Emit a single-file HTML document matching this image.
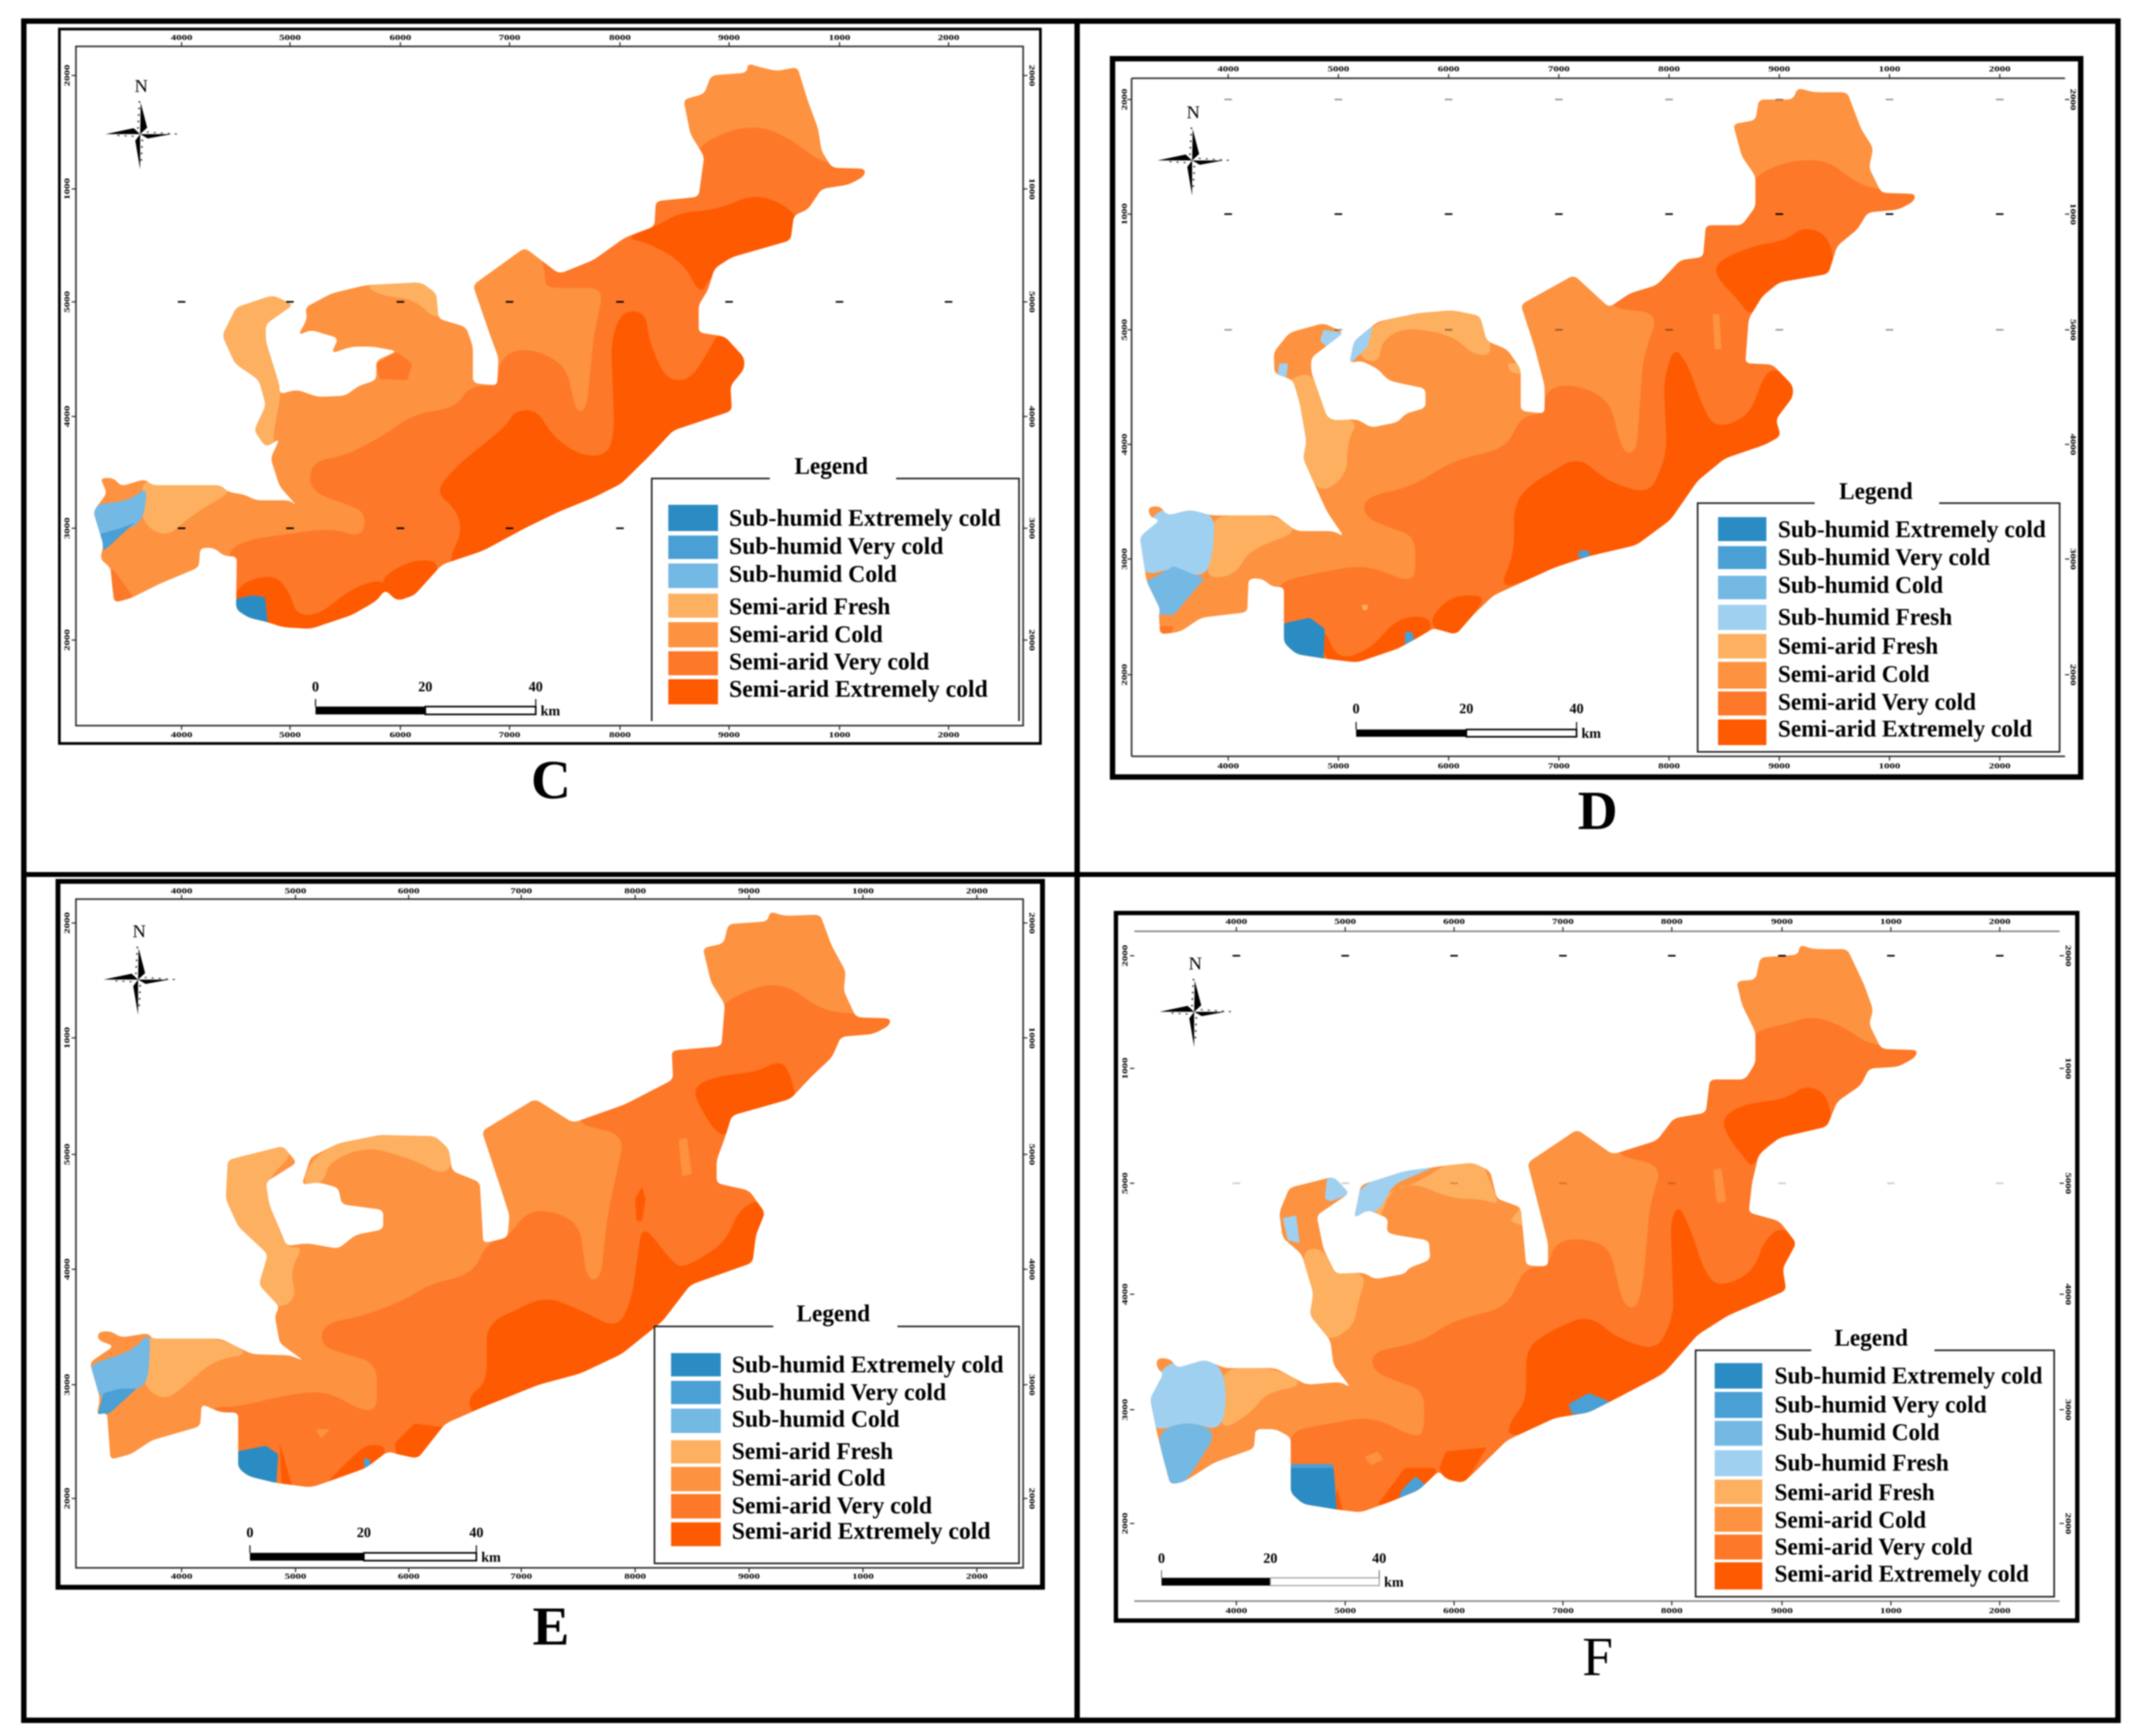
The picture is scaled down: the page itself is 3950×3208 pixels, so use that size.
<!DOCTYPE html>
<html>
<head>
<meta charset="utf-8">
<title>Climate classification maps C to F</title>
<style>
html,body{margin:0;padding:0;background:#fff;width:3950px;height:3208px;overflow:hidden}
svg{display:block;filter:blur(1.3px)}
text{font-family:"Liberation Serif",serif;fill:#000}
</style>
</head>
<body>
<svg id="figure" xmlns="http://www.w3.org/2000/svg" width="3950" height="3208" viewBox="0 0 3950 3208">
<rect x="0" y="0" width="3950" height="3208" fill="#fff"/>
<rect x="44" y="39" width="3869" height="3140" fill="none" stroke="#000" stroke-width="10"/>
<line x1="1990" y1="39" x2="1990" y2="3179" stroke="#000" stroke-width="10"/>
<line x1="44" y1="1616" x2="3913" y2="1616" stroke="#000" stroke-width="9"/>
</svg>
<script>
const colors = {
  subExtreme: '#2b8cc4', subVery: '#4a9fd4', subCold: '#74b8e4', subFresh: '#9fd0f0',
  fresh: '#fdb060', cold: '#fd9240', very: '#fd7828', extreme: '#fe5a02'
};
const legendLabels5 = ['Sub-humid Extremely cold','Sub-humid Very cold','Sub-humid Cold','Semi-arid Fresh','Semi-arid Cold','Semi-arid Very cold','Semi-arid Extremely cold'];
const legendColors5 = ['subExtreme','subVery','subCold','fresh','cold','very','extreme'];
const legendWidths5 = [502,396,310,298,284,370,478];
const legendLabels8 = ['Sub-humid Extremely cold','Sub-humid Very cold','Sub-humid Cold','Sub-humid Fresh','Semi-arid Fresh','Semi-arid Cold','Semi-arid Very cold','Semi-arid Extremely cold'];
const legendColors8 = ['subExtreme','subVery','subCold','subFresh','fresh','cold','very','extreme'];
const legendWidths8 = [495,392,305,322,296,280,366,470];
const scaleLabels = ['0','20','40'];
const xTickLabels = ['4000','5000','6000','7000','8000','9000','1000','2000'];
const yTickLabels = ['2000','1000','5000','4000','3000','2000'];

const outlineC = '1083,113 1100,120 1125,127 1155,120 1170,180 1185,230 1190,270 1205,300 1253,302 1252,315 1230,330 1190,338 1170,375 1150,385 1145,430 1060,460 1035,480 1025,520 1012,545 1012,595 1050,602 1078,640 1078,660 1058,690 1060,735 975,770 945,810 900,865 860,890 810,915 760,945 700,985 640,1010 600,1065 575,1075 558,1055 545,1075 510,1100 450,1125 410,1122 385,1112 360,1105 342,1090 343,995 325,995 310,980 290,980 288,1015 230,1045 190,1070 165,1078 160,1015 145,1000 150,975 135,915 155,882 145,855 165,855 175,870 210,857 220,868 320,868 330,880 355,885 370,895 420,895 430,905 405,870 392,820 405,785 385,800 368,770 385,725 375,680 340,650 322,600 342,550 395,528 425,545 385,580 385,610 405,690 405,705 430,697 460,710 500,708 520,690 545,680 545,645 575,628 540,620 510,620 480,632 490,605 450,590 432,600 445,570 442,550 480,525 530,510 610,505 632,525 635,570 675,585 685,620 685,685 720,690 722,640 710,600 685,510 760,443 810,490 860,465 905,425 948,405 950,360 1012,352 1020,280 1000,240 990,178 1020,168 1030,135 1082,130';
const layersC = [
  ['fresh','300,500 440,520 390,600 408,700 395,780 400,810 360,800 300,650'],
  ['fresh','525,510 625,495 650,540 633,575 600,535 555,530'],
  ['fresh','210,857 320,868 335,880 300,905 270,930 240,962 205,935 205,880'],
  ['very','330,985 360,965 420,955 480,945 525,962 530,920 510,905 460,885 447,860 455,825 500,815 555,780 600,740 660,730 680,690 722,690 722,650 745,625 780,628 820,655 835,740 850,730 860,600 875,515 830,515 790,515 790,490 780,440 860,420 900,380 930,320 1005,320 1005,268 1050,235 1100,225 1140,245 1195,295 1320,290 1320,800 900,1200 320,1200'],
  ['very','165,1020 193,1068 170,1085 155,1020'],
  ['very','545,650 575,630 597,650 590,680 550,678'],
  ['extreme','905,425 950,405 985,380 1040,375 1095,345 1150,375 1170,430 1030,490 1015,530 990,470 940,435'],
  ['extreme','630,880 660,835 735,760 745,735 778,733 800,780 840,815 880,815 890,770 885,610 900,557 935,557 940,610 965,680 1000,680 1030,620 1040,595 1090,595 1090,760 980,900 800,1000 660,1030 650,1000 670,950 660,910'],
  ['extreme','343,1045 397,1026 420,1060 429,1100 462,1100 510,1052 555,1035 560,1060 540,1140 400,1140 330,1130'],
  ['extreme','555,1030 600,1000 640,1005 610,1090 560,1090 555,1055'],
  ['subCold','214,868 207,935 175,950 150,985 125,905 190,895'],
  ['subVery','145,955 175,945 195,935 160,975 150,985'],
  ['subExtreme','340,1072 365,1065 384,1068 388,1120 330,1120']
];

const outlineD = '1067,157 1090,165 1140,165 1160,230 1178,265 1172,300 1190,345 1240,347 1238,360 1215,375 1170,380 1155,410 1125,440 1112,490 1040,505 1015,530 995,570 990,650 1030,652 1060,690 1060,710 1035,750 1042,780 1020,795 960,820 920,860 880,930 830,975 760,995 710,1015 620,1065 590,1100 565,1135 535,1125 530,1125 510,1140 480,1160 420,1185 370,1178 330,1170 312,1150 312,1050 295,1050 280,1035 260,1035 258,1095 190,1105 160,1130 130,1135 128,1100 130,1090 110,1040 100,960 130,930 115,925 112,907 130,905 140,922 175,912 205,922 300,922 330,950 385,950 400,960 375,915 362,880 340,820 345,790 335,720 325,680 298,668 297,630 320,595 370,578 400,595 352,640 352,665 375,745 385,752 420,750 440,765 480,755 490,740 520,730 520,695 480,685 465,680 450,660 425,645 408,650 415,610 450,575 510,560 560,555 600,565 610,610 640,625 660,660 660,735 695,740 695,690 680,620 660,545 738,492 790,550 820,525 860,510 895,465 928,460 932,403 985,403 1005,370 1005,315 985,280 972,222 1005,215 1010,178 1060,178';
const layersD = [
  ['fresh','290,700 352,660 375,745 422,752 405,790 405,850 365,885 340,830'],
  ['fresh','430,590 500,550 600,545 620,635 590,635 560,600 490,585 455,610 452,650 420,640'],
  ['fresh','205,922 300,922 335,950 260,985 240,1030 195,1035 208,980'],
  ['fresh','640,650 660,650 660,670 645,665'],
  ['subFresh','100,960 130,905 210,915 208,990 195,1035 150,1015 110,1030 90,1000'],
  ['subFresh','370,590 398,595 380,625 365,610'],
  ['subFresh','412,600 443,580 435,620 410,650 400,640'],
  ['subFresh','305,650 318,650 315,680 302,675'],
  ['subCold','110,1040 150,1013 195,1035 150,1100 130,1100'],
  ['very','300,1045 340,1030 430,1010 505,1045 505,960 470,945 430,925 430,890 500,870 560,825 640,800 660,745 695,740 697,695 740,687 790,715 810,810 830,810 840,640 863,560 785,550 800,490 860,470 890,430 915,380 1000,370 997,320 1050,288 1110,285 1150,325 1185,340 1300,335 1300,800 900,1200 300,1200'],
  ['very','130,1120 150,1120 145,1140 125,1140'],
  ['cold','942,562 952,562 955,625 945,625'],
  ['fresh','426,1082 436,1082 434,1092 428,1092'],
  ['extreme','945,470 1000,440 1050,430 1075,405 1112,420 1125,500 1030,510 1000,570 975,530 950,500'],
  ['extreme','650,905 670,870 745,815 785,860 850,885 875,810 870,680 885,620 905,650 925,720 945,768 995,745 1020,665 1040,660 1080,700 1060,800 900,910 840,985 700,1025 628,1055 650,990'],
  ['extreme','530,1100 560,1065 610,1065 590,1100 565,1140 530,1125'],
  ['extreme','435,1165 480,1105 525,1102 530,1130 480,1170 420,1195 370,1185 370,1120 390,1180'],
  ['subExtreme','312,1115 350,1105 372,1125 370,1185 305,1180'],
  ['subVery','490,1130 500,1130 505,1150 490,1158'],
  ['subVery','745,985 760,985 762,998 745,998']
];

const outlineE = '1115,82 1135,90 1188,88 1205,145 1225,190 1222,225 1240,273 1290,275 1288,288 1265,303 1218,308 1205,345 1175,380 1145,420 1060,450 1050,490 1038,530 1038,572 1085,585 1108,625 1095,665 1090,715 1000,755 960,820 900,880 840,915 780,935 700,975 645,1005 605,1068 575,1060 562,1055 530,1085 470,1112 450,1120 400,1112 360,1100 345,1085 345,985 320,985 292,970 290,1010 220,1035 190,1060 160,1070 155,985 140,990 145,960 130,895 165,865 142,855 142,840 160,838 175,850 215,842 220,852 320,852 365,880 420,882 440,892 405,860 398,810 405,795 375,755 388,700 345,650 327,600 330,530 410,505 430,535 385,570 390,610 415,685 445,680 490,690 515,665 555,655 555,620 525,615 495,610 490,580 460,570 437,575 450,525 490,500 550,485 630,487 650,510 655,550 695,570 700,680 735,670 738,630 725,580 698,478 775,420 830,463 905,430 975,385 973,333 1045,325 1050,250 1030,210 1018,148 1048,140 1055,105 1112,100';
const layersE = [
  ['fresh','320,500 430,510 385,570 390,610 415,690 440,685 420,730 430,780 400,800 360,760 320,620'],
  ['fresh','450,530 500,490 630,480 660,520 645,560 600,530 530,505 475,535 470,570 437,580'],
  ['fresh','215,842 320,852 365,880 310,890 270,935 238,965 205,935 215,880'],
  ['very','345,975 410,955 470,945 530,985 547,975 545,895 500,880 465,865 468,825 530,810 590,780 620,755 685,735 705,680 735,670 765,620 810,625 840,650 850,745 870,745 880,630 905,485 830,463 860,400 940,360 955,300 1040,300 1042,250 1100,215 1140,215 1190,260 1240,268 1340,250 1340,500 1200,1000 600,1200 300,1200 300,975'],
  ['cold','983,493 995,490 1002,555 988,560'],
  ['cold','457,1015 478,1015 465,1032'],
  ['extreme','1000,400 1040,378 1095,372 1130,350 1145,375 1155,430 1060,460 1050,490 1030,470'],
  ['extreme','680,980 680,955 705,930 705,825 790,775 840,800 895,835 915,780 930,645 975,715 990,725 1050,680 1070,620 1100,600 1115,620 1100,720 1000,770 900,895 780,955 700,995'],
  ['extreme','920,600 930,578 935,600 930,640 922,640'],
  ['extreme','572,1040 600,1005 645,1012 605,1075 575,1070'],
  ['extreme','470,1115 510,1065 535,1040 565,1050 530,1090 480,1120'],
  ['extreme','405,1040 408,1115 425,1125 412,1070'],
  ['subExtreme','345,1055 385,1045 403,1060 400,1115 340,1100'],
  ['subVery','527,1068 535,1068 537,1085 528,1088'],
  ['subCold','218,838 215,925 200,945 170,942 150,970 125,900 165,885 195,870'],
  ['subVery','150,950 175,942 198,942 160,985 140,995']
];

const outlineF = '1070,142 1090,150 1140,150 1165,215 1178,260 1172,285 1190,330 1243,332 1240,345 1215,362 1172,365 1160,395 1125,425 1110,470 1040,490 1010,520 1000,570 995,625 1040,640 1065,680 1045,725 1050,765 965,810 920,845 870,915 800,960 760,985 710,995 640,1035 590,1095 575,1112 550,1105 540,1090 510,1125 470,1145 425,1165 390,1160 340,1150 322,1130 322,1030 300,1015 270,1015 268,1050 210,1075 165,1110 145,1115 135,1070 125,1020 115,960 135,915 125,905 125,887 145,888 155,905 195,890 225,905 300,905 345,935 395,930 410,940 385,900 380,855 350,810 355,770 338,700 310,670 305,625 320,580 385,560 408,590 360,630 370,690 388,735 430,733 445,745 490,735 495,725 527,710 525,675 500,670 475,665 463,660 465,635 435,620 415,635 425,575 490,550 550,540 590,535 615,550 625,600 660,615 668,720 700,722 700,680 670,535 743,475 795,520 860,495 885,455 932,445 938,385 990,385 1005,355 1005,300 985,250 977,208 1005,205 1012,165 1068,160';
const layersF = [
  ['fresh','340,690 370,690 388,735 435,733 420,790 415,830 375,860 340,800'],
  ['fresh','460,590 510,570 560,530 600,525 625,600 625,610 600,600 560,600 500,570 465,590 455,635 440,625'],
  ['fresh','220,905 300,905 345,935 285,950 265,985 218,1020 225,965'],
  ['fresh','645,640 660,615 665,650'],
  ['subFresh','115,960 135,895 195,888 222,905 228,965 218,1020 170,1000 125,1020 100,990'],
  ['subFresh','375,565 385,555 412,590 380,605 372,600'],
  ['subFresh','425,575 490,545 555,530 510,555 470,575 455,620 415,640 410,620'],
  ['subFresh','310,635 330,630 335,680 318,675'],
  ['subCold','125,1020 170,1000 215,1020 165,1115 145,1120 135,1070'],
  ['very','322,1020 355,1010 440,992 505,1030 518,1020 518,945 480,930 442,910 442,875 510,860 560,820 640,795 665,725 700,722 710,680 745,670 790,685 810,790 830,800 840,750 850,610 868,540 795,520 810,470 860,460 880,420 920,370 995,360 997,300 1050,285 1090,270 1135,290 1175,325 1300,320 1300,800 1100,1000 600,1200 300,1200'],
  ['cold','943,548 955,545 962,605 948,608'],
  ['cold','430,1065 450,1055 458,1070 440,1080'],
  ['extreme','955,455 985,430 1050,420 1078,395 1110,410 1120,480 1030,495 1010,520 1000,545 985,520 965,490'],
  ['extreme','640,1030 645,1000 668,965 668,870 700,840 760,808 800,850 860,875 885,810 880,640 892,610 908,650 930,730 950,760 1000,735 1020,670 1045,650 1075,680 1060,780 920,865 790,985 700,1015'],
  ['extreme','540,1085 550,1055 610,1048 575,1120 550,1110'],
  ['extreme','450,1150 490,1085 535,1085 535,1115 470,1160'],
  ['extreme','390,1120 400,1170 385,1170'],
  ['subExtreme','322,1085 385,1085 390,1165 340,1160 315,1130'],
  ['subVery','320,1078 385,1078 385,1085 320,1085'],
  ['subVery','485,1125 505,1100 525,1120 510,1135 478,1150'],
  ['subVery','730,970 760,950 790,965 770,988 735,988']
];

const panels = [
  {id:'c', letter:'C', bold:true, ox:0, oy:0, sx:1.2755, sy:1.033, outline:outlineC, layers:layersC,
   frame:[86,52,1507,1330], frameW:5, inner:[110,83,1482,1298], innerMode:'box',
   xTicks:[263,420,580,738,898,1056,1216,1374], topY:67, botY:1314,
   yTicks:[135,338,540,745,945,1145], leftX:97, rightX:1495,
   grid:[[2,1,8],[4,1,5]], compass:[203,240], letterPos:[798,1395],
   bar:[457,616,776,1264,1278,1228], barFull:true,
   legendBox:[944,856,1476,1290], legendGap:[1115,1298], legendOpenBottom:true, legendTitleY:835, legendTitleX:1204,
   swatchX:[968,1040], swatchY:[[903,950],[958,1000],[1008,1052],[1062,1105],[1113,1158],[1165,1208],[1215,1260]],
   labelX:1056, labelY:[928,978,1028,1086,1136,1185,1234]},
  {id:'d', letter:'D', bold:true, ox:1980, oy:0, sx:1.257, sy:1.033, outline:outlineD, layers:layersD,
   frame:[60,105,1483,1390], frameW:10, inner:[88,140,1460,1353], innerMode:'open-right',
   xTicks:[230,392,554,716,878,1040,1202,1364], topY:123, botY:1370,
   yTicks:[178,383,590,795,1000,1207], leftX:77, rightX:1472,
   grid:[[0,0.4,8],[1,1,8],[2,0.4,8]], compass:[177,287], letterPos:[773,1450],
   bar:[418,580,742,1305,1318,1267], barFull:true,
   legendBox:[920,900,1452,1345], legendGap:[1092,1275], legendOpenBottom:false, legendTitleY:880, legendTitleX:1182,
   swatchX:[950,1021], swatchY:[[925,968],[977,1018],[1030,1072],[1082,1127],[1134,1178],[1184,1232],[1237,1280],[1287,1333]],
   labelX:1038, labelY:[948,998,1048,1105,1157,1207,1257,1305]},
  {id:'e', letter:'E', bold:true, ox:0, oy:1600, sx:1.2755, sy:1.0255, outline:outlineE, layers:layersE,
   frame:[84,28,1510,1300], frameW:9, inner:[110,60,1482,1265], innerMode:'box',
   xTicks:[263,428,592,755,920,1085,1250,1415], topY:45, botY:1280,
   yTicks:[103,310,520,727,935,1140], leftX:97, rightX:1495,
   grid:[], compass:[200,205], letterPos:[798,1370],
   bar:[362,527,690,1238,1252,1201], barFull:true,
   legendBox:[948,830,1476,1257], legendGap:[1120,1300], legendOpenBottom:false, legendTitleY:808, legendTitleX:1207,
   swatchX:[972,1044], swatchY:[[878,920],[928,970],[978,1022],[1035,1077],[1083,1127],[1132,1176],[1183,1226]],
   labelX:1060, labelY:[900,950,998,1056,1104,1154,1200]},
  {id:'f', letter:'F', bold:false, ox:1980, oy:1600, sx:1.257, sy:1.0255, outline:outlineF, layers:layersF,
   frame:[65,85,1478,1360], frameW:8, inner:[92,118,1452,1325], innerMode:'lines',
   xTicks:[242,402,562,722,882,1044,1204,1364], topY:100, botY:1342,
   yTicks:[162,365,572,772,980,1185], leftX:78, rightX:1465,
   grid:[[0,1,8],[2,0.2,8]], compass:[180,263], letterPos:[773,1425],
   bar:[132,292,452,1283,1297,1247], barFull:false,
   legendBox:[917,873,1444,1317], legendGap:[1087,1268], legendOpenBottom:false, legendTitleY:852, legendTitleX:1175,
   swatchX:[945,1015], swatchY:[[896,942],[948,995],[1000,1045],[1053,1100],[1106,1150],[1155,1200],[1205,1250],[1255,1304]],
   labelX:1033, labelY:[920,972,1022,1077,1130,1180,1228,1277]}
];

const NS = 'http://www.w3.org/2000/svg';
const root = document.getElementById('figure');
function mk(tag, parent, props) {
  const el = document.createElementNS(NS, tag);
  for (const k in props) el.setAttribute(k, props[k]);
  parent.appendChild(el);
  return el;
}
function txt(parent, s, x, y, props) {
  const el = mk('text', parent, Object.assign({x: x, y: y}, props));
  el.textContent = s;
  return el;
}
function smoothPath(str, maxR) {
  const pts = str.trim().split(/\s+/).map(function (s) { return s.split(',').map(Number); });
  const n = pts.length;
  let d = '';
  for (let i = 0; i < n; i++) {
    const c = pts[i], a = pts[(i + n - 1) % n], b = pts[(i + 1) % n];
    const la = Math.hypot(a[0] - c[0], a[1] - c[1]), lb = Math.hypot(b[0] - c[0], b[1] - c[1]);
    const ta = Math.min(maxR / la, 0.5), tb = Math.min(maxR / lb, 0.5);
    const p = [c[0] + (a[0] - c[0]) * ta, c[1] + (a[1] - c[1]) * ta];
    const q = [c[0] + (b[0] - c[0]) * tb, c[1] + (b[1] - c[1]) * tb];
    d += (i === 0 ? 'M' : 'L') + p[0].toFixed(1) + ' ' + p[1].toFixed(1) + 'Q' + c[0] + ' ' + c[1] + ' ' + q[0].toFixed(1) + ' ' + q[1].toFixed(1);
  }
  return d + 'Z';
}
panels.forEach(function (p) {
  const fx = function (v) { return p.ox + p.sx * v; };
  const fy = function (v) { return p.oy + p.sy * v; };
  const g = mk('g', root, {});
  
  

  const fr = mk('rect', g, {x: fx(p.frame[0]), y: fy(p.frame[1]), width: fx(p.frame[2]) - fx(p.frame[0]), height: fy(p.frame[3]) - fy(p.frame[1]), fill: 'none', stroke: '#000', 'stroke-width': p.frameW});
  
  

  const ix0 = fx(p.inner[0]), iy0 = fy(p.inner[1]), ix1 = fx(p.inner[2]), iy1 = fy(p.inner[3]);
  let d = 'M' + ix0 + ' ' + iy0 + 'H' + ix1 + 'M' + ix0 + ' ' + iy1 + 'H' + ix1;
  if (p.innerMode === 'box') d = 'M' + ix0 + ' ' + iy0 + 'H' + ix1 + 'V' + iy1 + 'H' + ix0 + 'Z';
  if (p.innerMode === 'open-right') d += 'M' + ix0 + ' ' + iy0 + 'V' + iy1;
  const inner = mk('path', g, {d: d, fill: 'none', stroke: p.innerMode === 'lines' ? '#888' : '#333', 'stroke-width': 3});
  
  

  const ticks = mk('g', g, {});
  
  
  p.xTicks.forEach(function (tx, i) {
    const x = fx(tx);
    mk('line', ticks, {x1: x, x2: x, y1: iy0 - 8, y2: iy0, stroke: '#222', 'stroke-width': 2});
    mk('line', ticks, {x1: x, x2: x, y1: iy1, y2: iy1 + 8, stroke: '#222', 'stroke-width': 2});
    txt(ticks, xTickLabels[i], x, fy(p.topY) + 5, {'font-size': 15, 'font-weight': 'bold', 'text-anchor': 'middle', textLength: 40, lengthAdjust: 'spacingAndGlyphs'});
    txt(ticks, xTickLabels[i], x, fy(p.botY) + 5, {'font-size': 15, 'font-weight': 'bold', 'text-anchor': 'middle', textLength: 40, lengthAdjust: 'spacingAndGlyphs'});
  });
  p.yTicks.forEach(function (ty, i) {
    const y = fy(ty);
    const lx = fx(p.leftX), rx = fx(p.rightX);
    mk('line', ticks, {x1: ix0 - 8, x2: ix0, y1: y, y2: y, stroke: '#222', 'stroke-width': 2});
    mk('line', ticks, {x1: ix1, x2: ix1 + 8, y1: y, y2: y, stroke: '#222', 'stroke-width': 2});
    txt(ticks, yTickLabels[i], lx + 5, y, {'font-size': 15, 'font-weight': 'bold', 'text-anchor': 'middle', transform: 'rotate(-90 ' + (lx + 5) + ' ' + y + ')', textLength: 40, lengthAdjust: 'spacingAndGlyphs'});
    txt(ticks, yTickLabels[i], rx - 5, y, {'font-size': 15, 'font-weight': 'bold', 'text-anchor': 'middle', transform: 'rotate(90 ' + (rx - 5) + ' ' + y + ')', textLength: 40, lengthAdjust: 'spacingAndGlyphs'});
  });

  const map = mk('g', g, {transform: 'matrix(' + p.sx + ' 0 0 ' + p.sy + ' ' + p.ox + ' ' + p.oy + ')'});
  
  
  const clip = mk('clipPath', map, {id: 'clip-' + p.id});
  const outlinePath = smoothPath(p.outline, 9);
  mk('path', clip, {d: outlinePath});
  mk('path', map, {d: outlinePath, fill: colors.cold});
  const clipped = mk('g', map, {'clip-path': 'url(#clip-' + p.id + ')'});
  p.layers.forEach(function (l) {
    const count = l[1].trim().split(/\s+/).length;
    const poly = mk('path', clipped, {d: smoothPath(l[1], count >= 6 ? 30 : 3), fill: colors[l[0]]});
    
    
  });

  const gridMarks = mk('g', g, {});
  
  
  p.grid.forEach(function (row) {
    for (let c = 0; c < row[2]; c++) {
      mk('rect', gridMarks, {x: fx(p.xTicks[c]) - 7, y: fy(p.yTicks[row[0]]) - 1.5, width: 14, height: 3, fill: '#000', opacity: row[1]});
    }
  });

  const cx = fx(p.compass[0]), cy = fy(p.compass[1]);
  const comp = mk('g', g, {transform: 'translate(' + cx + ' ' + cy + ')'});
  
  
  mk('polygon', comp, {points: '0,0 1,-58 13,-12'});
  mk('polygon', comp, {points: '0,0 0,65 -9,12'});
  mk('polygon', comp, {points: '0,0 -64,0 -12,-11'});
  mk('polygon', comp, {points: '0,0 58,0 14,8'});
  mk('line', comp, {x1: -4, y1: -10, x2: -1, y2: -65, stroke: '#333', 'stroke-width': 3, 'stroke-dasharray': '3 9'});
  mk('line', comp, {x1: 4, y1: 10, x2: 2, y2: 50, stroke: '#333', 'stroke-width': 3, 'stroke-dasharray': '3 9'});
  mk('line', comp, {x1: 12, y1: -4, x2: 70, y2: 0, stroke: '#333', 'stroke-width': 2, 'stroke-dasharray': '4 9'});
  mk('line', comp, {x1: -12, y1: 4, x2: -48, y2: 2, stroke: '#333', 'stroke-width': 2, 'stroke-dasharray': '4 9'});
  txt(comp, 'N', 2, -78, {'font-size': 34, 'text-anchor': 'middle'});

  const sb = mk('g', g, {});
  
  
  const bx0 = fx(p.bar[0]), bx1 = fx(p.bar[1]), bx2 = fx(p.bar[2]), by0 = fy(p.bar[3]), by1 = fy(p.bar[4]);
  mk('rect', sb, {x: bx0, y: by0, width: bx1 - bx0, height: by1 - by0, fill: '#000'});
  mk('rect', sb, {x: bx1, y: by0, width: bx2 - bx1, height: by1 - by0, fill: '#fff', stroke: p.barFull ? '#000' : '#999', 'stroke-width': p.barFull ? 3 : 2});
  [bx0, bx1, bx2].forEach(function (x, i) {
    mk('line', sb, {x1: x, x2: x, y1: by0 - 14, y2: by0, stroke: i === 1 ? 'none' : (p.barFull ? '#000' : '#777'), 'stroke-width': 2});
    txt(sb, scaleLabels[i], x, fy(p.bar[5]) + 9, {'font-size': 26, 'font-weight': 'bold', 'text-anchor': 'middle'});
  });
  txt(sb, 'km', bx2 + 9, by1 + 2, {'font-size': 26, 'font-weight': 'bold'});

  const leg = mk('g', g, {});
  
  
  const lb = p.legendBox;
  const lx0 = fx(lb[0]), ly0 = fy(lb[1]), lx1 = fx(lb[2]), ly1 = fy(lb[3]);
  const g0 = fx(p.legendGap[0]), g1 = fx(p.legendGap[1]);
  const legendPath = p.legendOpenBottom
    ? 'M' + g0 + ' ' + ly0 + 'H' + lx0 + 'V' + ly1 + 'M' + g1 + ' ' + ly0 + 'H' + lx1 + 'V' + ly1
    : 'M' + g0 + ' ' + ly0 + 'H' + lx0 + 'V' + ly1 + 'H' + lx1 + 'V' + ly0 + 'H' + g1;
  mk('path', leg, {d: legendPath, fill: 'none', stroke: '#222', 'stroke-width': 3});
  txt(leg, 'Legend', fx(p.legendTitleX), fy(p.legendTitleY) + 13, {'font-size': 44, 'font-weight': 'bold', 'text-anchor': 'middle', textLength: 136, lengthAdjust: 'spacingAndGlyphs'});
  const eight = p.swatchY.length === 8;
  const labels = eight ? legendLabels8 : legendLabels5;
  const cols = eight ? legendColors8 : legendColors5;
  const widths = eight ? legendWidths8 : legendWidths5;
  labels.forEach(function (s, i) {
    const entry = mk('g', leg, {});
    
    
    mk('rect', entry, {x: fx(p.swatchX[0]), y: fy(p.swatchY[i][0]), width: fx(p.swatchX[1]) - fx(p.swatchX[0]), height: fy(p.swatchY[i][1]) - fy(p.swatchY[i][0]), fill: colors[cols[i]]});
    txt(entry, s, fx(p.labelX), fy(p.labelY[i]) + 13, {'font-size': 44, 'font-weight': 'bold', textLength: widths[i], lengthAdjust: 'spacingAndGlyphs'});
  });

  const letter = txt(g, p.letter, fx(p.letterPos[0]), fy(p.letterPos[1]) + 34, {'font-size': 102, 'font-weight': p.bold ? 'bold' : 'normal', 'text-anchor': 'middle'});
  
  
});
</script>
</body>
</html>
